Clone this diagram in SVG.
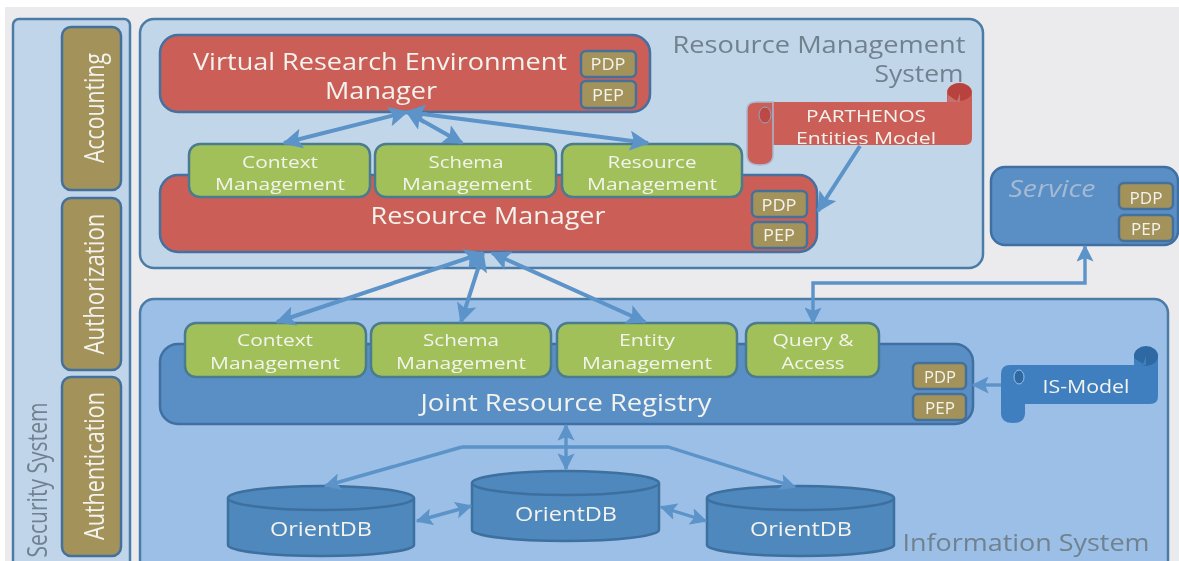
<svg xmlns="http://www.w3.org/2000/svg" width="1179" height="561" viewBox="0 0 1179 561">
<defs>
<style>
text{font-family:"Open Sans","Liberation Sans",sans-serif;fill:#f3f3ee;text-anchor:middle}
.sys{stroke:#4c7ba6;stroke-width:2.5}
.red{fill:#cb5f58;stroke:#44709f;stroke-width:2.5}
.grn{fill:#a2c05a;stroke:#4a7b8e;stroke-width:2.5}
.olv{fill:#a3935a;stroke:#44709a;stroke-width:2.5}
.blu{fill:#5a8fc6;stroke:#3f70a2;stroke-width:2.5}
.db{fill:#5088bd;stroke:#3c6f9f;stroke-width:2.5}
.con{fill:none;stroke:#5b93c8;stroke-width:4}
.thin{stroke-width:3.4}
.both{marker-start:url(#h);marker-end:url(#h)}
.end{marker-end:url(#h)}
.gray{fill:#70828f}
.sm{font-size:15.5px}
.md{font-size:17px}
.lg{font-size:23px}
.vt{font-size:27px}
</style>
<marker id="h" viewBox="0 0 12 12" refX="11" refY="6" markerWidth="5" markerHeight="5" orient="auto-start-reverse"><path d="M0,0 L12,6 L0,12 L2.500,6z" fill="#5b93c8"/></marker>
<filter id="soft" x="0" y="0" width="100%" height="100%"><feGaussianBlur stdDeviation="0.7"/></filter>
</defs>
<g filter="url(#soft)">
<rect x="5" y="7" width="1174" height="554" fill="#ebebee"/>

<g id="security-system">
<rect class="sys" x="13" y="19" width="117" height="560" rx="6" fill="#c1d5ea"/>
<text class="gray vt" transform="translate(47 480) rotate(-90)" textLength="155" lengthAdjust="spacingAndGlyphs">Security System</text>
</g>
<g id="accounting"><rect class="olv" x="62" y="27" width="59" height="163" rx="9"/><text class="vt" transform="translate(104 108) rotate(-90)" textLength="110" lengthAdjust="spacingAndGlyphs">Accounting</text></g>
<g id="authorization"><rect class="olv" x="62" y="198" width="59" height="172" rx="9"/><text class="vt" transform="translate(104 284) rotate(-90)" textLength="141" lengthAdjust="spacingAndGlyphs">Authorization</text></g>
<g id="authentication"><rect class="olv" x="62" y="377" width="59" height="179" rx="9"/><text class="vt" transform="translate(104 466) rotate(-90)" textLength="148" lengthAdjust="spacingAndGlyphs">Authentication</text></g>

<g id="resource-management-system">
<rect class="sys" x="140" y="19" width="843" height="249" rx="14" fill="#c2d6ea"/>
<text class="gray lg" x="819" y="53" textLength="293" lengthAdjust="spacingAndGlyphs">Resource Management</text>
<text class="gray lg" x="919" y="82" textLength="89" lengthAdjust="spacingAndGlyphs">System</text>
</g>

<g id="information-system">
<rect class="sys" x="140" y="299" width="1028" height="290" rx="14" fill="#9bbfe6"/>
<text class="gray lg" x="1026" y="551" textLength="247" lengthAdjust="spacingAndGlyphs">Information System</text>
</g>

<g id="vre-manager">
<rect class="red" x="160" y="35" width="490" height="77" rx="18"/>
<text class="lg" x="380" y="70" textLength="374" lengthAdjust="spacingAndGlyphs">Virtual Research Environment</text>
<text class="lg" x="381" y="99" textLength="112" lengthAdjust="spacingAndGlyphs">Manager</text>
<rect class="olv" x="581" y="51" width="55" height="26" rx="5"/><text class="sm" x="608" y="70" textLength="35" lengthAdjust="spacingAndGlyphs">PDP</text>
<rect class="olv" x="581" y="81" width="55" height="27" rx="5"/><text class="sm" x="608" y="101" textLength="32" lengthAdjust="spacingAndGlyphs">PEP</text>
</g>

<g id="resource-manager">
<rect class="red" x="160" y="175" width="657" height="77" rx="18"/>
<text class="lg" x="488" y="224" textLength="235" lengthAdjust="spacingAndGlyphs">Resource Manager</text>
<rect class="olv" x="752" y="191" width="55" height="26" rx="5"/><text class="sm" x="779" y="211" textLength="35" lengthAdjust="spacingAndGlyphs">PDP</text>
<rect class="olv" x="752" y="222" width="55" height="26" rx="5"/><text class="sm" x="779" y="241" textLength="32" lengthAdjust="spacingAndGlyphs">PEP</text>
</g>
<g id="rm-context"><rect class="grn" x="189" y="144" width="181" height="53" rx="11"/><text class="md" x="280" y="168" textLength="76" lengthAdjust="spacingAndGlyphs">Context</text><text class="md" x="280" y="190" textLength="130" lengthAdjust="spacingAndGlyphs">Management</text></g>
<g id="rm-schema"><rect class="grn" x="375" y="144" width="181" height="53" rx="11"/><text class="md" x="466" y="168" textLength="75" lengthAdjust="spacingAndGlyphs">Schema</text><text class="md" x="467" y="190" textLength="130" lengthAdjust="spacingAndGlyphs">Management</text></g>
<g id="rm-resource"><rect class="grn" x="562" y="144" width="180" height="53" rx="11"/><text class="md" x="652" y="168" textLength="89" lengthAdjust="spacingAndGlyphs">Resource</text><text class="md" x="652" y="190" textLength="130" lengthAdjust="spacingAndGlyphs">Management</text></g>

<g id="parthenos-model">
<path d="M947,102 V92 A12.500,9 0 0 1 972,92 V138 Q972,145 965,145 H773 V102z" fill="#cb5f58"/>
<ellipse cx="959.500" cy="92" rx="12" ry="9" fill="#b8423c"/>
<path d="M948,102 V95 L957,101 L960,93 V102z" fill="#c8706e"/>
<path d="M747,110 Q747,102 756,102 H773 V155 Q773,165 760,165 Q747,165 747,155z" fill="#cb5f58" stroke="#a9b9cf" stroke-width="1.500"/>
<ellipse cx="765" cy="115" rx="6" ry="8" fill="#bd4a44" stroke="#8fa6c2"/>
<text font-size="16" x="866" y="122" textLength="120" lengthAdjust="spacingAndGlyphs">PARTHENOS</text>
<text font-size="16" x="866" y="144" textLength="140" lengthAdjust="spacingAndGlyphs">Entities Model</text>
</g>

<g id="service">
<rect class="blu" x="991" y="167" width="187" height="78" rx="14"/>
<text class="lg" x="1052" y="197" font-style="italic" style="fill:#a5bad2" textLength="87" lengthAdjust="spacingAndGlyphs">Service</text>
<rect class="olv" x="1119" y="183" width="54" height="26" rx="5"/><text class="sm" x="1146" y="204" textLength="33" lengthAdjust="spacingAndGlyphs">PDP</text>
<rect class="olv" x="1119" y="215" width="54" height="26" rx="5"/><text class="sm" x="1146" y="235" textLength="30" lengthAdjust="spacingAndGlyphs">PEP</text>
</g>

<g id="joint-resource-registry">
<rect class="blu" x="160" y="344" width="813" height="80" rx="18"/>
<text class="lg" x="566" y="411" textLength="291" lengthAdjust="spacingAndGlyphs">Joint Resource Registry</text>
<rect class="olv" x="913" y="363" width="53" height="26" rx="5"/><text class="sm" x="940" y="383" textLength="32" lengthAdjust="spacingAndGlyphs">PDP</text>
<rect class="olv" x="913" y="394" width="53" height="26" rx="5"/><text class="sm" x="940" y="414" textLength="30" lengthAdjust="spacingAndGlyphs">PEP</text>
</g>
<g id="jrr-context"><rect class="grn" x="185" y="323" width="181" height="54" rx="11"/><text class="md" x="275" y="346" textLength="76" lengthAdjust="spacingAndGlyphs">Context</text><text class="md" x="275" y="369" textLength="130" lengthAdjust="spacingAndGlyphs">Management</text></g>
<g id="jrr-schema"><rect class="grn" x="371" y="323" width="180" height="54" rx="11"/><text class="md" x="461" y="346" textLength="76" lengthAdjust="spacingAndGlyphs">Schema</text><text class="md" x="461" y="369" textLength="130" lengthAdjust="spacingAndGlyphs">Management</text></g>
<g id="jrr-entity"><rect class="grn" x="557" y="323" width="180" height="54" rx="11"/><text class="md" x="647" y="346" textLength="56" lengthAdjust="spacingAndGlyphs">Entity</text><text class="md" x="647" y="369" textLength="130" lengthAdjust="spacingAndGlyphs">Management</text></g>
<g id="jrr-query"><rect class="grn" x="746" y="323" width="133" height="54" rx="11"/><text class="md" x="813" y="346" textLength="81" lengthAdjust="spacingAndGlyphs">Query &amp;</text><text class="md" x="813" y="369" textLength="63" lengthAdjust="spacingAndGlyphs">Access</text></g>

<g id="is-model">
<path d="M1134,365 V356 A12,9 0 0 1 1158,356 V396 Q1158,404 1150,404 H1025 V365z" fill="#3f7fbf"/>
<ellipse cx="1146" cy="356" rx="12" ry="10" fill="#2f69a3"/>
<path d="M1134,365 V358 L1143,364 L1146,356 V365z" fill="#3f7fbf"/>
<path d="M1001,374 Q1001,365 1010,365 H1025 V413 Q1025,423 1013,423 Q1001,423 1001,413z" fill="#3f7fbf"/>
<ellipse cx="1019" cy="377" rx="5" ry="7" fill="#2f69a3" stroke="#9bbfe6"/>
<text x="1086" y="393" font-size="18" textLength="87" lengthAdjust="spacingAndGlyphs">IS-Model</text>
</g>

<g id="orientdb-left">
<path class="db" d="M228,498 V545 A93,11 0 0 0 414,545 V498"/><ellipse class="db" cx="321" cy="498" rx="93" ry="12"/>
<text font-size="19.500" x="321" y="536" textLength="102" lengthAdjust="spacingAndGlyphs">OrientDB</text>
</g>
<g id="orientdb-center">
<path class="db" d="M472,483 V530 A93.500,11 0 0 0 659,530 V483"/><ellipse class="db" cx="565.500" cy="483" rx="93.500" ry="12"/>
<text font-size="19.500" x="566" y="521" textLength="102" lengthAdjust="spacingAndGlyphs">OrientDB</text>
</g>
<g id="orientdb-right">
<path class="db" d="M707,498 V545 A93.500,11 0 0 0 894,545 V498"/><ellipse class="db" cx="800.500" cy="498" rx="93.500" ry="12"/>
<text font-size="19.500" x="801" y="536" textLength="102" lengthAdjust="spacingAndGlyphs">OrientDB</text>
</g>

<g id="connectors">
<path class="con both" d="M407,112 L284,143"/>
<path class="con both" d="M407,112 L462,143"/>
<path class="con both" d="M407,112 L648,143"/>
<path class="con end" d="M860,146 L818,211"/>
<path class="con both" d="M483,253 L277,322"/>
<path class="con both" d="M483,253 L461,322"/>
<path class="con both" d="M492,253 L645,322"/>
<path class="con thin both" d="M1085,246 V283 H813 V323"/>
<path class="con thin end" d="M1001,385 H973"/>
<path class="con thin both" d="M566,425 V469"/>
<path class="con thin end" d="M462,447 L325,486"/>
<path class="con thin end" d="M462,447 H668 L795,487"/>
<path class="con thin both" d="M417,521 L471,506"/>
<path class="con thin both" d="M661,507 L706,521"/>
</g>
</g>
</svg>
